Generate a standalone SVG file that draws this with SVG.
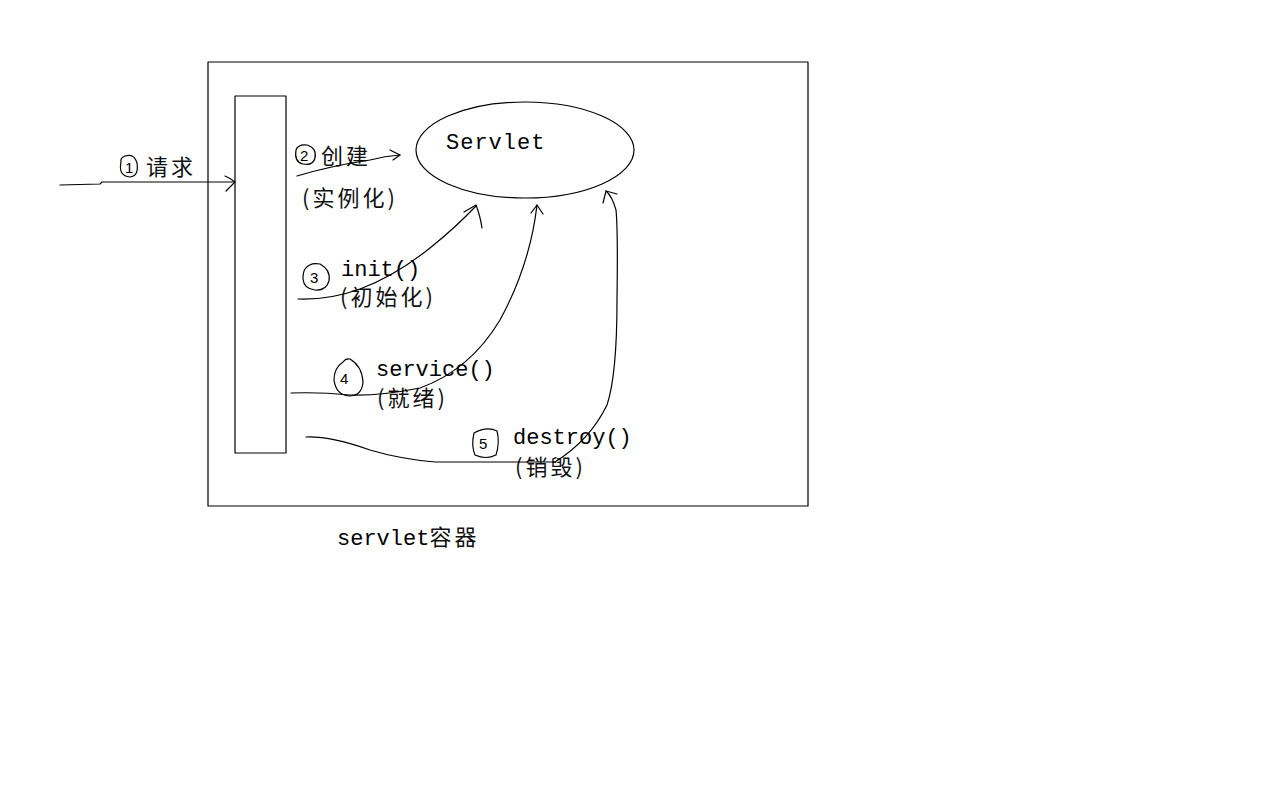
<svg xmlns="http://www.w3.org/2000/svg" width="1280" height="800" viewBox="0 0 1280 800">
<style>
.s{fill:none;stroke:#000;stroke-width:1.2;stroke-linecap:round;stroke-linejoin:round}
.t{font-family:"Liberation Mono","Noto Sans CJK SC",monospace;font-size:22px;fill:#000}
.c{font-family:"Noto Sans CJK SC","Liberation Sans",sans-serif;font-size:22px;letter-spacing:3px;fill:#111}
.n{font-family:"Liberation Sans",sans-serif;font-size:15px;fill:#000}
</style>
<rect width="1280" height="800" fill="#fff"/>
<g id="container">
<rect class="s" x="208" y="62" width="600" height="444"/>
<text class="t" x="337" y="545">servlet<tspan class="c" font-size="24" letter-spacing="4">容器</tspan></text>
</g>
<g id="servlet-container-bar">
<rect class="s" x="235" y="96" width="51" height="357"/>
</g>
<g id="servlet">
<ellipse class="s" cx="525" cy="150" rx="109" ry="48"/>
<text class="t" x="446" y="149" letter-spacing="1">Servlet</text>
</g>
<g id="labels">
<path class="s" d="M121 162 Q118 176 130 177 Q139 176 137 163 Q134 153 125 156 Q120 158 121 162"/>
<text class="n" x="125" y="173">1</text>
<text class="c" x="146" y="175" font-size="23">请求</text>
<path class="s" d="M296 150 Q298 144 307 145 Q317 148 315 158 Q313 166 303 164 Q294 162 296 150"/>
<text class="n" x="300" y="161">2</text>
<text class="c" x="321" y="164" font-size="23">创建</text>
<text class="c" x="302" y="206">(实例化)</text>
<path class="s" d="M305 269 Q310 262 320 264 Q331 270 329 281 Q326 291 315 290 Q304 289 303 279 Q303 272 305 269"/>
<text class="n" x="310" y="283">3</text>
<text class="t" x="341" y="276">init()</text>
<text class="c" x="340" y="305">(初始化)</text>
<path class="s" d="M343 362 Q334 368 334 380 Q336 395 349 396 Q362 396 363 382 Q362 366 350 359 Q346 358 343 362"/>
<text class="n" x="340" y="384">4</text>
<text class="t" x="376" y="376">service()</text>
<text class="c" x="377" y="406">(就绪)</text>
<path class="s" d="M474 433 Q471 446 475 455 Q486 460 496 455 Q500 442 497 431 Q487 426 474 433"/>
<text class="n" x="479" y="449">5</text>
<text class="t" x="513" y="444">destroy()</text>
<text class="c" x="515" y="475">(销毁)</text>
</g>
<g id="connectors">
<path class="s" d="M60 185 L100 184 L102 182 L234 182"/>
<path class="s" d="M225 176 Q230 178 235 182 Q231 186 226 191"/>
<path class="s" d="M297 176 Q330 166 370 160 Q385 156 400 155"/>
<path class="s" d="M390 150 L400 155 L393 160"/>
<path class="s" d="M298 299 Q330 300 360 289 Q395 276 430 248 Q455 228 476 206"/>
<path class="s" d="M464 212 L476 205 Q480 215 482 228"/>
<path class="s" d="M291 393 Q320 392 350 395 Q380 396 420 388 Q470 370 500 320 Q530 265 537 205"/>
<path class="s" d="M531 213 L537 205 L543 214"/>
<path class="s" d="M306 437 Q330 436 370 450 Q400 459 435 462 L555 462 Q590 440 607 405 Q617 375 617 300 Q618 230 616 210 Q612 196 606 191"/>
<path class="s" d="M603 203 L606 191 L617 194"/>
</g>
</svg>
